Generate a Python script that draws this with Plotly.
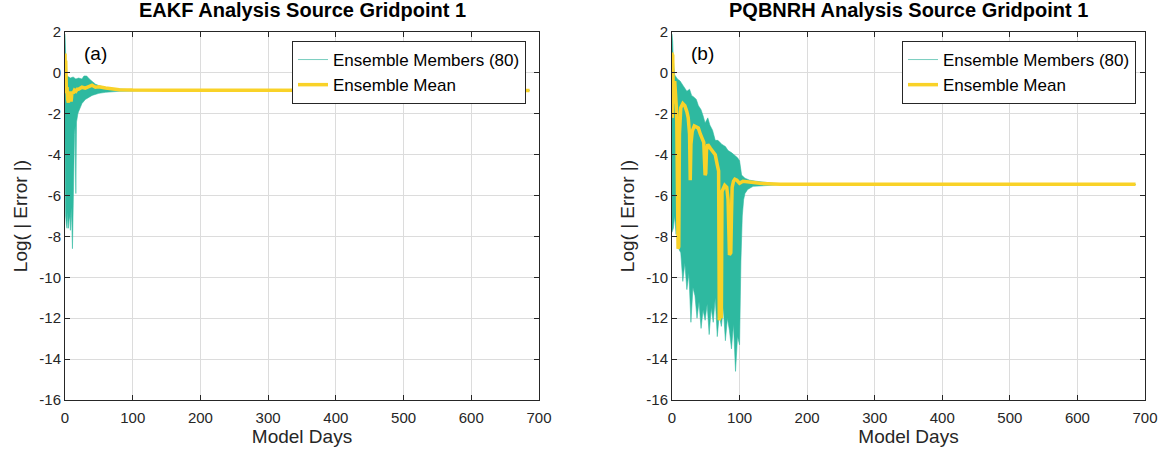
import plotly.graph_objects as go

# ---- panel (a): EAKF ----
a_up_days = [0, 0.5, 1, 2, 3, 5, 8, 12, 16, 20, 25, 28, 32, 36, 40, 45, 50, 55, 60, 70, 80, 90, 100, 120, 150, 686]
a_up_vals = [1.9, 1.2, 0.4, 0.0, -0.15, -0.2, -0.25, -0.2, -0.3, -0.25, -0.3, -0.15, -0.15, -0.3, -0.4, -0.55, -0.62, -0.68, -0.72, -0.76, -0.79, -0.81, -0.83, -0.84, -0.85, -0.85]
a_lo_days = [0, 0.5, 1, 2, 3, 4, 5, 6, 7, 8, 9, 10, 11, 12, 13, 14, 15, 16, 17, 18, 19, 20, 22, 25, 30, 35, 40, 50, 60, 80, 100, 150, 686]
a_lo_vals = [-3.0, -6.0, -7.0, -7.4, -7.6, -6.8, -7.6, -7.2, -7.0, -7.7, -6.6, -7.3, -8.6, -6.5, -4.5, -3.0, -2.6, -5.9, -2.4, -2.2, -2.0, -1.9, -1.7, -1.5, -1.3, -1.2, -1.1, -1.0, -0.95, -0.9, -0.88, -0.86, -0.86]
a_mean_days = [0, 0.5, 1, 2, 3, 4, 5, 6, 7, 8, 9, 10, 11, 12, 14, 16, 18, 20, 25, 30, 35, 40, 45, 50, 60, 70, 80, 100, 150, 686]
a_mean_vals = [0.95, -1.0, 0.6, -0.9, -0.7, -1.3, -1.45, -1.0, -1.35, -0.9, -1.4, -1.05, -0.95, -1.0, -0.85, -0.9, -0.8, -0.8, -0.7, -0.75, -0.65, -0.6, -0.7, -0.68, -0.74, -0.78, -0.82, -0.84, -0.85, -0.86]

# ---- panel (b): PQBNRH ----
b_up_days = [0, 1, 2, 4, 8, 12, 16, 19, 22, 26, 29, 33, 36, 39, 43, 46, 49, 53, 56, 60, 64, 68, 74, 79, 83, 88, 93, 97, 100, 103, 108, 115, 125, 135, 150, 170, 200, 686]
b_up_vals = [1.9, 1.55, 0.6, -0.1, -0.3, -0.4, -0.6, -0.75, -0.9, -0.8, -1.1, -1.2, -1.3, -1.6, -1.8, -2.1, -2.45, -2.2, -2.55, -2.8, -3.3, -3.3, -3.5, -3.6, -3.8, -3.9, -4.05, -4.15, -4.3, -5.0, -5.15, -5.25, -5.3, -5.35, -5.4, -5.43, -5.45, -5.45]
b_lo_days = [0, 2, 4, 6, 8, 10, 13, 16, 19, 22, 25, 28, 31, 34, 37, 40, 43, 46, 49, 52, 55, 58, 61, 64, 67, 70, 73, 76, 79, 82, 85, 88, 91, 94, 97, 100, 102, 104, 106, 108, 112, 120, 135, 160, 686]
b_lo_vals = [-7.8, -7.6, -7.0, -7.9, -7.5, -8.6, -8.8, -10.2, -9.3, -10.6, -9.8, -12.2, -10.5, -10.9, -12.0, -11.2, -12.5, -11.6, -12.1, -11.3, -12.8, -11.5, -12.2, -11.0, -12.9, -11.8, -12.4, -11.5, -13.1, -12.0, -12.6, -13.5, -12.3, -14.6, -12.9, -13.3, -9.2, -7.0, -6.2, -5.9, -5.7, -5.55, -5.5, -5.47, -5.46]
b_mean_days = [0, 0.5, 1, 2, 4, 7, 9, 10, 11, 13, 16, 19, 22, 24, 26, 27, 28, 30, 33, 36, 39, 42, 44, 47, 49, 50, 51, 53, 57, 60, 64, 67, 69, 70, 71, 72, 73, 74, 76, 78, 81, 83, 85, 87, 88, 89, 91, 93, 96, 100, 105, 115, 130, 160, 200, 686]
b_mean_vals = [1.0, -2.2, 0.9, -1.5, -0.4, -2.0, -8.6, -8.5, -3.0, -1.7, -1.5, -1.6, -1.9, -2.2, -3.0, -5.25, -3.5, -2.85, -2.6, -2.65, -2.7, -3.0, -3.2, -3.4, -5.0, -4.9, -3.8, -3.5, -3.7, -3.85, -4.0, -4.5, -4.8, -12.1, -11.9, -6.0, -12.0, -5.8, -5.6, -5.5, -5.6, -6.2, -8.9, -8.8, -7.0, -5.6, -5.3, -5.2, -5.25, -5.4, -5.3, -5.35, -5.4, -5.45, -5.45, -5.45]

x_ticks = [0, 100, 200, 300, 400, 500, 600, 700]
x_labels = ["0", "100", "200", "300", "400", "500", "600", "700"]
y_ticks = [2, 0, -2, -4, -6, -8, -10, -12, -14, -16]
y_labels = ["2", "0", "-2", "-4", "-6", "-8", "-10", "-12", "-14", "-16"]

titles = ["EAKF Analysis Source Gridpoint 1", "PQBNRH Analysis Source Gridpoint 1"]
panel_labels = ["(a)", "(b)"]

teal = "rgb(46,185,160)"
yellow = "rgb(249,210,40)"
font = "Arial, Liberation Sans, sans-serif"

fig = go.Figure()

panels = [
    (a_up_days, a_up_vals, a_lo_days, a_lo_vals, a_mean_days, a_mean_vals, "x", "y", "legend"),
    (b_up_days, b_up_vals, b_lo_days, b_lo_vals, b_mean_days, b_mean_vals, "x2", "y2", "legend2"),
]
for up_d, up_v, lo_d, lo_v, m_d, m_v, xa, ya, lg in panels:
    # ensemble spread as a filled envelope
    fig.add_trace(go.Scatter(
        x=up_d + lo_d[::-1], y=up_v + lo_v[::-1], fill="toself", mode="lines",
        fillcolor=teal, line=dict(color="rgba(46,185,160,0.7)", width=0.8),
        showlegend=False, hoverinfo="skip", xaxis=xa, yaxis=ya))
    # legend entry for members
    fig.add_trace(go.Scatter(
        x=[None], y=[None], mode="lines", line=dict(color="rgb(120,205,190)", width=1),
        name="Ensemble Members (80)", legend=lg, xaxis=xa, yaxis=ya))
    fig.add_trace(go.Scatter(
        x=m_d, y=m_v, mode="lines", line=dict(color=yellow, width=3.5),
        name="Ensemble Mean", legend=lg, xaxis=xa, yaxis=ya))

axis_common = dict(
    showline=True, linecolor="#262626", linewidth=1, mirror="ticks",
    ticks="inside", ticklen=5, tickcolor="#262626", automargin=False,
    showgrid=True, gridcolor="#dcdcdc", gridwidth=1, zeroline=False,
    tickfont=dict(family=font, size=15, color="#262626"),
)
xdoms = [[65 / 1162, 539 / 1162], [672 / 1162, 1145 / 1162]]
ydom = [1 - 400 / 453, 1 - 32 / 453]

for i, xd in enumerate(xdoms):
    sfx = "" if i == 0 else str(i + 1)
    fig.layout["xaxis" + sfx] = dict(
        axis_common, domain=xd, range=[0, 700], tickvals=x_ticks, ticktext=x_labels,
        anchor="y" + sfx, ticklabelstandoff=4,
        title=dict(text="Model Days", font=dict(family=font, size=19, color="#262626"), standoff=4))
    fig.layout["yaxis" + sfx] = dict(
        axis_common, domain=ydom, range=[-16, 2], tickvals=y_ticks, ticktext=y_labels,
        anchor="x" + sfx,
        title=dict(text="Log( | Error |)", font=dict(family=font, size=19, color="#262626"), standoff=6))
    fig.add_annotation(
        text="<b>" + titles[i] + "</b>", xref="paper", yref="paper",
        x=(xd[0] + xd[1]) / 2, y=1 - 10 / 453, xanchor="center", yanchor="middle",
        showarrow=False, font=dict(family=font, size=20, color="black"))
    fig.add_annotation(
        text=panel_labels[i], xref="x" + sfx + " domain", yref="y" + sfx + " domain",
        x=17 / 474, y=1 - 21 / 368, xanchor="left", yanchor="middle", showarrow=False,
        font=dict(family=font, size=19, color="black"))

legend_common = dict(
    bgcolor="white", bordercolor="#262626", borderwidth=1,
    font=dict(family=font, size=17, color="black"),
    xanchor="right", yanchor="top", y=1 - 41 / 453, tracegroupgap=0,
)
fig.update_layout(
    width=1162, height=453, margin=dict(l=0, r=0, t=0, b=0, autoexpand=False),
    paper_bgcolor="white", plot_bgcolor="white",
    legend=dict(legend_common, x=526 / 1162),
    legend2=dict(legend_common, x=1136 / 1162),
)

fig.write_html("out.html", config={"displayModeBar": False},
               post_script="document.body.style.margin='0';")
